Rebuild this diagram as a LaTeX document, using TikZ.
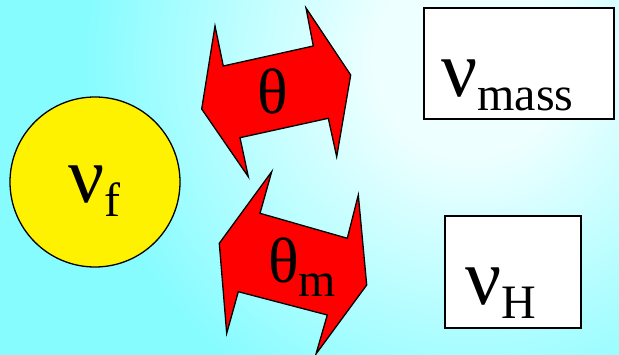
\documentclass[tikz,border=0pt]{standalone}
\usepackage{fontspec}
\setmainfont{Liberation Serif}
\usetikzlibrary{positioning}

\definecolor{bgcyan}{RGB}{135,252,255}
\definecolor{bglight}{RGB}{238,255,255}
\pgfdeclareradialshading{bgglow}{\pgfpoint{0bp}{0bp}}{color(0bp)=(bglight); color(2bp)=(bglight); color(8bp)=(bgcyan); color(50bp)=(bgcyan)}
\newcommand{\bigsz}{\fontsize{80}{80}\selectfont}
\newcommand{\thsz}{\fontsize{64}{64}\selectfont}
\newcommand{\lowsub}[1]{\raisebox{-14pt}{\fontsize{48}{48}\selectfont #1}}

\begin{document}
\begin{tikzpicture}[x=1pt, y=-1pt,
	twoway/.style={fill=red, draw=black, line width=1.3pt, line join=miter},
	box/.style={draw=black, fill=white, line width=1.3pt, inner sep=0pt},
	lbl/.style={anchor=base west, inner sep=0pt, font=\bigsz}]
	\useasboundingbox (0,0) rectangle (619,355);
	\clip (0,0) rectangle (619,355);
	\fill[bgcyan] (0,0) rectangle (619,355);
	\shade[shading=bgglow] (470,60) circle (1200);

	\node[circle, box, fill=yellow, minimum size=170pt] (nuf) at (95,182) {};
	\node[lbl] (nuflbl) at (68,203) {ν\lowsub{f}};

	\node[box, minimum width=190pt, minimum height=111pt] (massbox) at (519,63.5) {};
	\node[lbl] (masslbl) at (441,97) {ν\lowsub{mass}};
	\node[box, minimum width=136pt, minimum height=112pt] (hbox) at (513,272) {};
	\node[lbl] (hlbl) at (465,305) {ν\lowsub{H}};

	\draw[twoway] (201.7,109) -- (215,26) -- (223.3,66) -- (313.3,46) -- (306,8) -- (350.7,75)
		-- (336.7,156.7) -- (328.3,118.3) -- (240,137.7) -- (248.3,176.7) -- cycle;
	\node[inner sep=0pt, font=\thsz] (theta) at (272.5,91.5) {θ};

	\draw[twoway] (219.3,243.3) -- (271.7,171.7) -- (260,213.3) -- (347.3,238.3) -- (358.3,195) -- (366.7,285)
		-- (316,354) -- (327.3,315) -- (238.3,291.7) -- (226.7,333.3) -- cycle;
	\node[lbl, font=\thsz] (thetam) at (268,283) {θ\lowsub{m}};
\end{tikzpicture}
\end{document}
